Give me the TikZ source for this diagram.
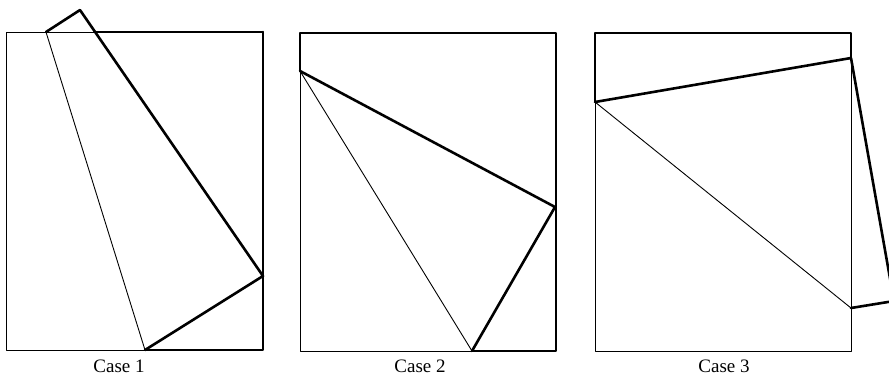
\documentclass[tikz,border=0pt]{standalone}
\usepackage{fontspec}
\setmainfont{Liberation Serif}
\begin{document}
\begin{tikzpicture}[x=1pt,y=-1pt,
  thinln/.style={line width=0.9pt,line cap=round,line join=round},
  medln/.style={line width=1.5pt,line cap=round,line join=round},
  thickln/.style={line width=2.6pt,line cap=round,line join=round},
  caselabel/.style={font=\fontsize{19}{22}\selectfont,inner sep=0pt}]
\useasboundingbox (0,0) rectangle (889,376);
\clip (0,0) rectangle (889,376);
% ---------- Case 1 ----------
\coordinate (a1) at (6,32);
\coordinate (b1) at (263,32);
\coordinate (c1) at (263,350);
\coordinate (d1) at (6,350);
\coordinate (p1) at (46,32);
\coordinate (q1) at (80,10);
\coordinate (r1) at (263,276);
\coordinate (s1) at (145,350);
\coordinate (t1) at (94,32);
\draw[thinln] (t1) -- (a1) -- (d1) -- (s1);
\draw[medln] (t1) -- (b1);
\draw[thickln] (b1) -- (c1) -- (s1);
\draw[thinln] (p1) -- (s1);
\draw[thickln] (p1) -- (q1) -- (r1) -- (s1);
\node[caselabel] (l1) at (119,366) {Case 1};
% ---------- Case 2 ----------
\coordinate (a2) at (300,33);
\coordinate (b2) at (556,33);
\coordinate (c2) at (556,351);
\coordinate (d2) at (300,351);
\coordinate (p2) at (300,71);
\coordinate (r2) at (555,207);
\coordinate (s2) at (472,351);
\draw[medln] (p2) -- (a2) -- (b2) -- (c2) -- (s2);
\draw[thinln] (p2) -- (d2) -- (s2);
\draw[thinln] (p2) -- (s2);
\draw[thickln] (p2) -- (r2) -- (s2);
\node[caselabel] (l2) at (420,366) {Case 2};
% ---------- Case 3 ----------
\coordinate (a3) at (595,33);
\coordinate (b3) at (851,33);
\coordinate (c3) at (851,351);
\coordinate (d3) at (595,351);
\coordinate (p3) at (595,102);
\coordinate (q3) at (851,58);
\coordinate (v3) at (894,301);
\coordinate (s3) at (851,308);
\draw[medln] (p3) -- (a3) -- (b3) -- (q3);
\draw[thinln] (p3) -- (d3) -- (c3) -- (q3);
\draw[thinln] (p3) -- (s3);
\draw[thickln] (p3) -- (q3) -- (v3) -- (s3);
\node[caselabel] (l3) at (724,366) {Case 3};
\end{tikzpicture}
\end{document}
